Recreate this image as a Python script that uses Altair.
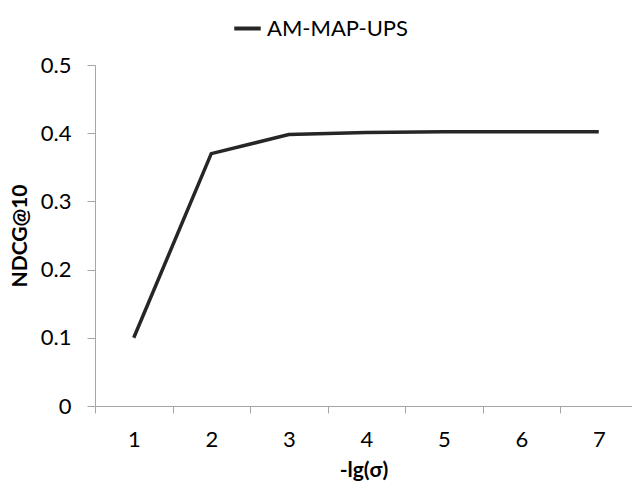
import altair as alt
import pandas as pd

x_vals = [1, 2, 3, 4, 5, 6, 7]
ndcg = [0.10, 0.37, 0.398, 0.401, 0.402, 0.402, 0.402]
series = ["AM-MAP-UPS"] * 7
x_tick_vals = [0.5, 1.5, 2.5, 3.5, 4.5, 5.5, 6.5]
y_tick_vals = [0, 0.1, 0.2, 0.3, 0.4, 0.5]

df = pd.DataFrame({"x": x_vals, "y": ndcg, "s": series})

FONT = "Lato"
GREY = "#a6a6a6"

chart = alt.Chart(df).mark_line(strokeWidth=3.5, color="#262626").encode(
    x=alt.X(
        "x:Q",
        scale=alt.Scale(domain=[0.5, 7.429], nice=False, zero=False),
        axis=alt.Axis(
            title="-lg(σ)",
            values=x_tick_vals,
            labelExpr="datum.value + 0.5",
            labelOffset=38.75,
            labelFlush=False,
            labelOverlap=False,
            grid=False,
            tickSize=7,
            tickColor=GREY,
            domainColor=GREY,
            labelPadding=16,
            labelFontSize=22,
            labelFont=FONT,
            labelColor="black",
            titleFont=FONT,
            titleFontSize=21,
            titleFontWeight="bold",
            titleColor="black",
            titlePadding=9,
        ),
    ),
    y=alt.Y(
        "y:Q",
        scale=alt.Scale(domain=[0, 0.5], nice=False),
        axis=alt.Axis(
            title="NDCG@10",
            values=y_tick_vals,
            format="~g",
            grid=False,
            tickSize=8,
            tickColor=GREY,
            domainColor=GREY,
            labelPadding=16,
            labelFontSize=22,
            labelFont=FONT,
            labelColor="black",
            titleFont=FONT,
            titleFontSize=21,
            titleFontWeight="bold",
            titleColor="black",
            titlePadding=10,
        ),
    ),
    color=alt.Color(
        "s:N",
        scale=alt.Scale(range=["#262626"]),
        legend=alt.Legend(
            title=None,
            orient="none",
            legendX=137,
            legendY=-52,
            symbolType="stroke",
            symbolStrokeWidth=4,
            symbolSize=700,
            labelFontSize=22,
            labelFont=FONT,
            labelColor="black",
            labelOffset=4,
        ),
    ),
).properties(
    width=537,
    height=341,
    autosize=alt.AutoSizeParams(type="none"),
    padding={"left": 95, "top": 65, "right": 0, "bottom": 87},
).configure_view(stroke=None)

chart.save("out.html", embed_options={"renderer": "svg", "actions": False})
